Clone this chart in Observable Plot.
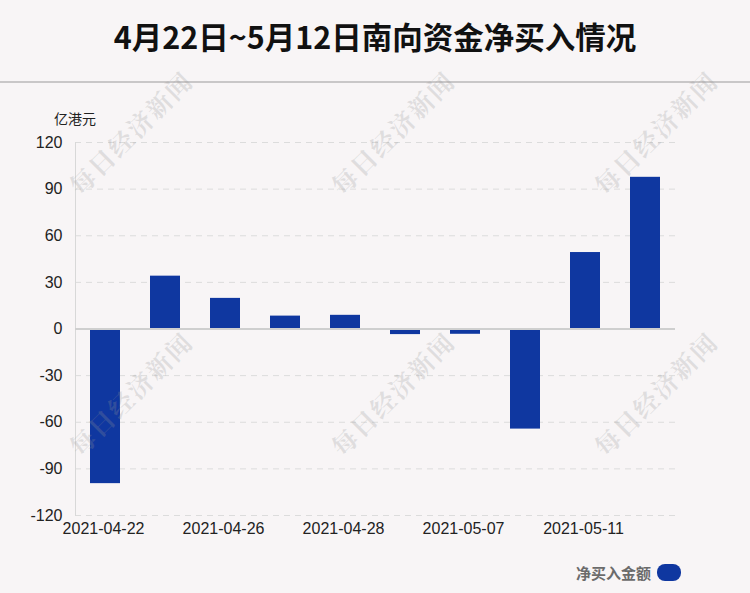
<!DOCTYPE html>
<html>
<head>
<meta charset="utf-8">
<script src="https://cdn.jsdelivr.net/npm/d3@7"></script>
<script src="https://cdn.jsdelivr.net/npm/@observablehq/plot@0.6"></script>
<style>
  html, body { margin: 0; padding: 0; }
  body { width: 750px; height: 593px; background: #f8f5f6; position: relative; overflow: hidden;
         font-family: "Liberation Sans", Arial, sans-serif; }
  #title { position: absolute; left: 0; top: 0; width: 750px; height: 81px; border-bottom: 2px solid #c9c7c8;
           text-align: center; font: bold 30.5px "Noto Sans CJK SC", sans-serif; line-height: 72px; color: #111; }
  #chart { position: absolute; left: 0; top: 84px; }
  #unit { position: absolute; left: 54px; top: 108px; font: 14px "Noto Sans CJK SC", sans-serif; color: #222; }
  #legend { position: absolute; left: 576px; top: 562px; font: bold 15px "Noto Sans CJK SC", sans-serif; color: #6b6b6b;
            display: flex; align-items: center; }
  #legend span.sw { display: inline-block; width: 24px; height: 17px; border-radius: 8px; background: #0f37a0; margin-left: 6px; }
  .wm { position: absolute; font: bold 25px "Noto Serif CJK SC", "Noto Sans CJK SC", serif; color: rgba(150,150,150,0.25);
        transform: translate(-50%, -50%) rotate(-45deg); white-space: nowrap; pointer-events: none; letter-spacing: 2px; }
</style>
</head>
<body>
<div id="title">4月22日~5月12日南向资金净买入情况</div>
<div id="chart"></div>
<div id="unit">亿港元</div>
<div id="legend">净买入金额<span class="sw"></span></div>
<script>
const dates = ["2021-04-22","2021-04-23","2021-04-26","2021-04-27","2021-04-28","2021-04-29","2021-05-07","2021-05-10","2021-05-11","2021-05-12"];
const values = [-99.5, 34.0, 19.7, 8.3, 8.8, -3.6, -3.4, -64.4, 49.2, 97.6];
const xTicks = ["2021-04-22","2021-04-26","2021-04-28","2021-05-07","2021-05-11"];
const yTicks = [120, 90, 60, 30, 0, -30, -60, -90, -120];
const gridTicks = [120, 90, 60, 30, -30, -60, -90, -120];
const watermark = "每日经济新闻";
const wmPos = [[130,132],[392,132],[655,132],[130,393],[392,393],[655,393]];

const data = dates.map((d, i) => ({date: d, value: values[i]}));

const chart = Plot.plot({
  width: 750,
  height: 470,
  marginLeft: 75,
  marginRight: 75,
  marginTop: 58,
  marginBottom: 39,
  style: {background: "transparent", fontFamily: "Liberation Sans, Arial, sans-serif", fontSize: "16px", color: "#222"},
  x: {domain: dates, paddingInner: 0.5, paddingOuter: 0.25, label: null},
  y: {domain: [-120, 120], label: null},
  marks: [
    Plot.ruleY(gridTicks, {stroke: "#dcdcdc", strokeDasharray: "6,5", strokeWidth: 1}),
    Plot.frame({anchor: "left", stroke: "#d8d8d8"}),
    Plot.barY(data, {x: "date", y: "value", fill: "#0f37a0"}),
    Plot.ruleY([0], {stroke: "#cfcfcf", strokeWidth: 2}),
    Plot.axisY({ticks: yTicks, tickSize: 0, tickPadding: 13, fontSize: 16, label: null, tickFormat: d => String(d)}),
    Plot.axisX({ticks: xTicks, tickSize: 0, tickPadding: 7, fontSize: 16, label: null, dx: -2})
  ]
});
document.getElementById("chart").appendChild(chart);

for (const [x, y] of wmPos) {
  const el = document.createElement("div");
  el.className = "wm";
  el.textContent = watermark;
  el.style.left = x + "px";
  el.style.top = y + "px";
  document.body.appendChild(el);
}
</script>
</body>
</html>
